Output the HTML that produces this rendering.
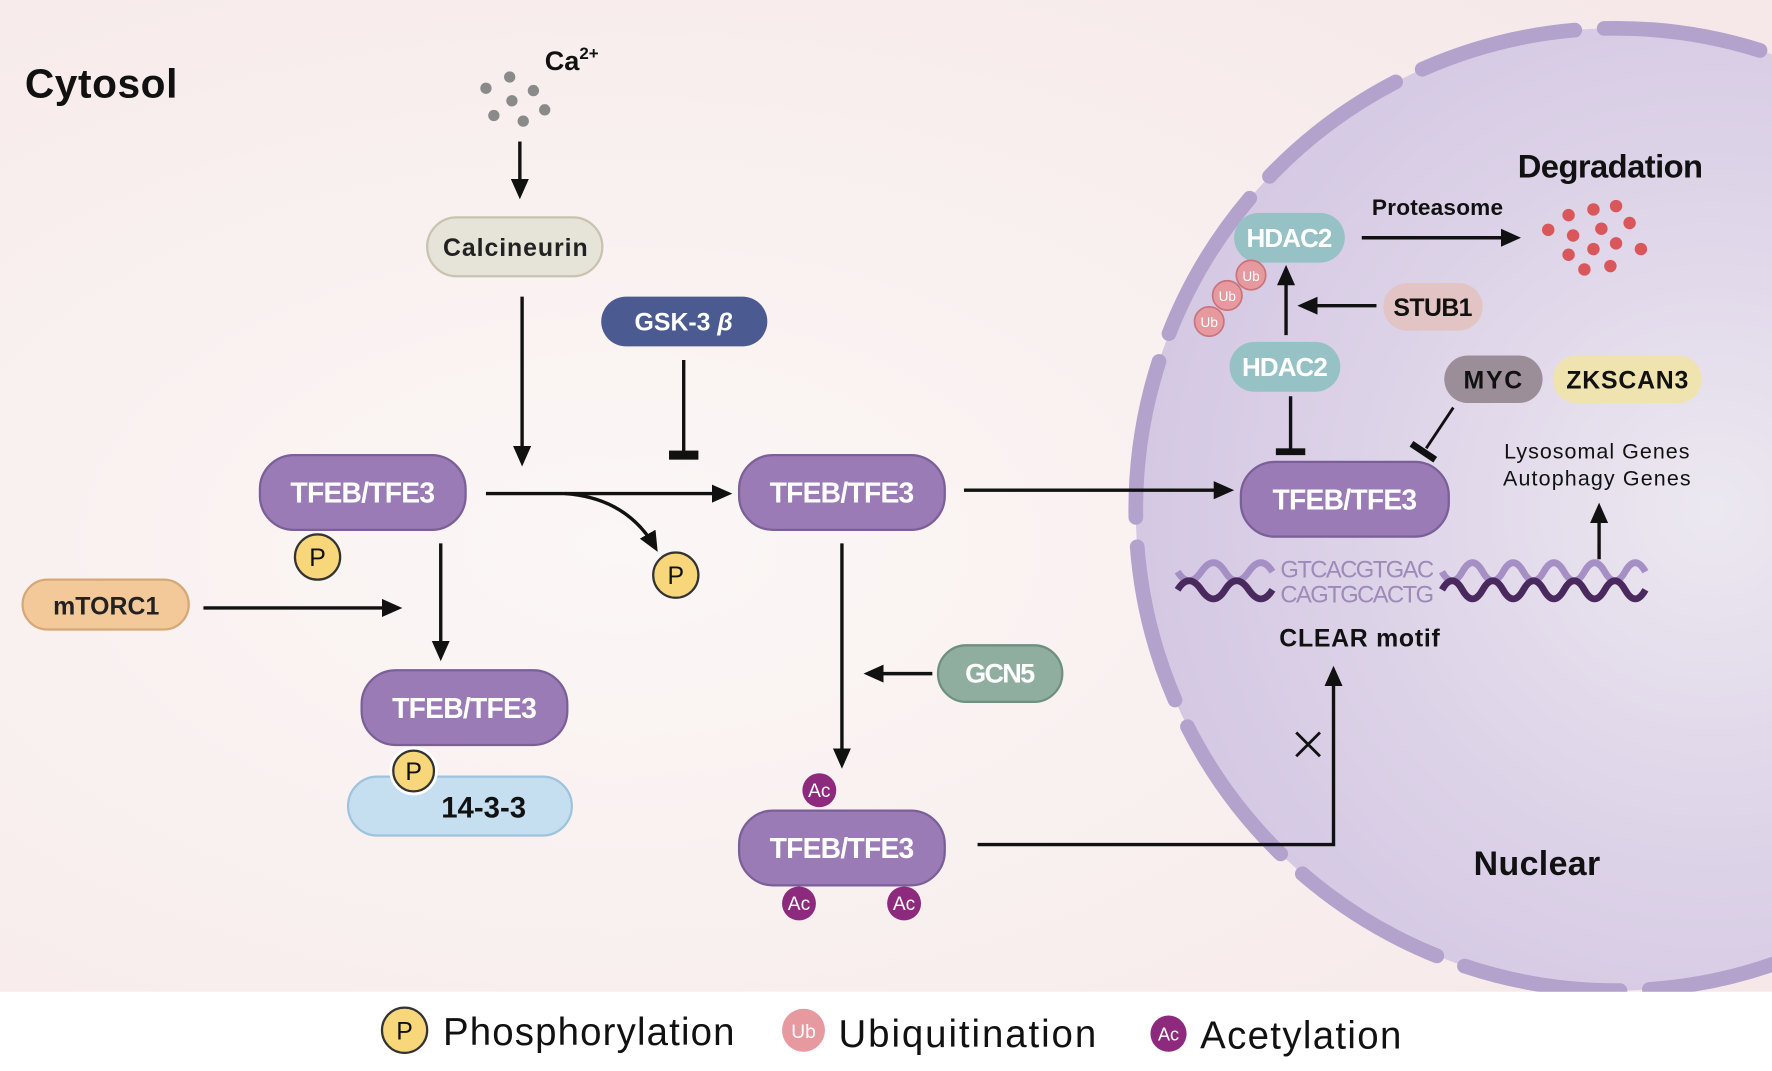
<!DOCTYPE html>
<html><head><meta charset="utf-8"><style>
html,body{margin:0;padding:0;background:#fff;}
svg{display:block;}
text{font-family:"Liberation Sans Narrow","Liberation Sans",sans-serif;}
</style></head><body>
<svg width="1772" height="1071" viewBox="0 0 1568 946" preserveAspectRatio="none" xmlns="http://www.w3.org/2000/svg">
<defs>
<radialGradient id="bg" cx="0.35" cy="0.55" r="0.8">
<stop offset="0" stop-color="#fbf7f6"/><stop offset="1" stop-color="#f6e8e8"/>
</radialGradient>
<radialGradient id="nuc" cx="0.6" cy="0.5" r="0.6">
<stop offset="0" stop-color="#ece8f0"/><stop offset="0.6" stop-color="#ddd3e8"/><stop offset="1" stop-color="#d4c8e3"/>
</radialGradient>
<marker id="ahb" markerWidth="18" markerHeight="16" refX="14" refY="8" orient="auto" markerUnits="userSpaceOnUse"><path d="M0,0 L18,8 L0,16 z" fill="#111"/></marker>
<clipPath id="main"><rect x="0" y="0" width="1568" height="876"/></clipPath>
</defs>
<rect x="0" y="0" width="1568" height="946" fill="#fff"/>
<rect x="0" y="0" width="1568" height="876" fill="url(#bg)"/>
<g clip-path="url(#main)">
<circle cx="1430" cy="450" r="425" fill="url(#nuc)"/>
<circle cx="1430" cy="450" r="425" fill="none" stroke="#b3a2cc" stroke-width="13" stroke-linecap="round" stroke-dasharray="140 26"/>
</g>
<text x="22" y="86" font-size="36" font-weight="bold" fill="#111" textLength="135">Cytosol</text>
<g fill="#8a8a8a">
<circle cx="430" cy="78" r="5"/><circle cx="451" cy="68" r="5"/><circle cx="472" cy="80" r="5"/>
<circle cx="453" cy="89" r="5"/><circle cx="482" cy="97" r="5"/><circle cx="437" cy="102" r="5"/><circle cx="463" cy="107" r="5"/>
</g>
<text x="482" y="62" font-size="24" font-weight="bold" fill="#111">Ca<tspan font-size="15" dy="-10">2+</tspan></text>
<g stroke="#111" stroke-width="3" fill="none">
<line x1="460" y1="125" x2="460" y2="172" marker-end="url(#ahb)"/>
<line x1="462" y1="262" x2="462" y2="408" marker-end="url(#ahb)"/>
<line x1="605" y1="318" x2="605" y2="402"/>
<line x1="430" y1="436" x2="644" y2="436" marker-end="url(#ahb)"/>
<path d="M500,436 Q555,440 580,484" marker-end="url(#ahb)"/>
<line x1="853" y1="433" x2="1088" y2="433" marker-end="url(#ahb)"/>
<line x1="180" y1="537" x2="352" y2="537" marker-end="url(#ahb)"/>
<line x1="390" y1="480" x2="390" y2="580" marker-end="url(#ahb)"/>
<line x1="745" y1="480" x2="745" y2="675" marker-end="url(#ahb)"/>
<line x1="825" y1="595" x2="768" y2="595" marker-end="url(#ahb)"/>
<polyline points="865,746 1180,746 1180,592" marker-end="url(#ahb)"/>
<line x1="1138" y1="296" x2="1138" y2="238" marker-end="url(#ahb)"/>
<line x1="1218" y1="270" x2="1152" y2="270" marker-end="url(#ahb)"/>
<line x1="1142" y1="350" x2="1142" y2="398"/>
<line x1="1205" y1="210" x2="1342" y2="210" marker-end="url(#ahb)"/>
<line x1="1415" y1="494" x2="1415" y2="448" marker-end="url(#ahb)"/>
<line x1="1286" y1="360" x2="1262" y2="396" stroke-width="2.5"/>
</g>
<rect x="592" y="398" width="26" height="8" fill="#111"/>
<rect x="1129" y="396" width="26" height="6" fill="#111"/>
<line x1="1249" y1="392" x2="1270" y2="406" stroke="#111" stroke-width="6"/>
<g stroke="#111" stroke-width="2.5"><line x1="1147" y1="647" x2="1168" y2="668"/><line x1="1168" y1="647" x2="1147" y2="668"/></g>
<rect x="378" y="192" width="155" height="52" rx="26" fill="#e6e3d8" stroke="#c8c3b0" stroke-width="2"/>
<text x="456" y="226" font-size="22" font-weight="bold" text-anchor="middle" fill="#222" textLength="128">Calcineurin</text>
<rect x="532" y="262" width="147" height="44" rx="22" fill="#4b5b92"/>
<text x="605" y="292" font-size="22" font-weight="bold" text-anchor="middle" fill="#fff">GSK-3 <tspan font-style="italic">β</tspan></text>
<g fill="#9a7bb5" stroke="#7b5f98" stroke-width="2">
<rect x="230" y="402" width="182" height="66" rx="30"/>
<rect x="654" y="402" width="182" height="66" rx="30"/>
<rect x="1098" y="408" width="184" height="66" rx="30"/>
<rect x="320" y="592" width="182" height="66" rx="30"/>
<rect x="654" y="716" width="182" height="66" rx="30"/>
</g>
<g font-size="25" font-weight="bold" fill="#fff" text-anchor="middle">
<text x="321" y="444" textLength="128">TFEB/TFE3</text>
<text x="745" y="444" textLength="128">TFEB/TFE3</text>
<text x="1190" y="450" textLength="128">TFEB/TFE3</text>
<text x="411" y="634" textLength="128">TFEB/TFE3</text>
<text x="745" y="758" textLength="128">TFEB/TFE3</text>
</g>
<rect x="20" y="512" width="147" height="44" rx="22" fill="#f3c99a" stroke="#d6a878" stroke-width="2"/>
<text x="94" y="543" font-size="22" font-weight="bold" text-anchor="middle" fill="#222" textLength="94">mTORC1</text>
<rect x="308" y="686" width="198" height="52" rx="26" fill="#c5dff0" stroke="#9ec3dc" stroke-width="2"/>
<text x="428" y="722" font-size="26" font-weight="bold" text-anchor="middle" fill="#111">14-3-3</text>
<rect x="830" y="570" width="110" height="50" rx="25" fill="#8fae9f" stroke="#6f8f80" stroke-width="2"/>
<text x="885" y="603" font-size="24" font-weight="bold" text-anchor="middle" fill="#fff" textLength="62">GCN5</text>
<g fill="#f7d77a" stroke="#333" stroke-width="2">
<circle cx="281" cy="492" r="20"/><circle cx="598" cy="508" r="20"/><circle cx="366" cy="681" r="20" stroke="#fff" stroke-width="3"/>
</g>
<circle cx="366" cy="681" r="18" fill="none" stroke="#333" stroke-width="2"/>
<g font-size="22" text-anchor="middle" fill="#111"><text x="281" y="500">P</text><text x="598" y="516">P</text><text x="366" y="689">P</text></g>
<g fill="#8e2a7d"><circle cx="725" cy="698" r="15"/><circle cx="707" cy="798" r="15"/><circle cx="800" cy="798" r="15"/></g>
<g font-size="17" text-anchor="middle" fill="#fff"><text x="725" y="704">Ac</text><text x="707" y="804">Ac</text><text x="800" y="804">Ac</text></g>
<text x="1425" y="157" font-size="29" font-weight="bold" text-anchor="middle" fill="#111" textLength="164">Degradation</text>
<text x="1272" y="190" font-size="20" font-weight="bold" text-anchor="middle" fill="#111" textLength="116">Proteasome</text>
<g fill="#d9575a">
<circle cx="1388" cy="190" r="5.5"/><circle cx="1410" cy="185" r="5.5"/><circle cx="1430" cy="182" r="5.5"/><circle cx="1442" cy="197" r="5.5"/>
<circle cx="1370" cy="203" r="5.5"/><circle cx="1392" cy="208" r="5.5"/><circle cx="1417" cy="202" r="5.5"/><circle cx="1430" cy="215" r="5.5"/>
<circle cx="1452" cy="220" r="5.5"/><circle cx="1410" cy="220" r="5.5"/><circle cx="1388" cy="225" r="5.5"/><circle cx="1402" cy="238" r="5.5"/><circle cx="1425" cy="235" r="5.5"/>
</g>
<g fill="#96c2c6">
<rect x="1092" y="188" width="98" height="44" rx="22"/>
<rect x="1088" y="302" width="98" height="44" rx="22"/>
</g>
<g font-size="23" font-weight="bold" fill="#fff" text-anchor="middle"><text x="1141" y="218" textLength="76">HDAC2</text><text x="1137" y="332" textLength="76">HDAC2</text></g>
<rect x="1224" y="250" width="88" height="42" rx="21" fill="#e3c4c4"/>
<text x="1268" y="279" font-size="22" font-weight="bold" text-anchor="middle" fill="#111" textLength="70">STUB1</text>
<g fill="#e69a9f" stroke="#c9737a" stroke-width="1.5">
<circle cx="1107" cy="243" r="13"/><circle cx="1086" cy="261" r="13"/><circle cx="1070" cy="284" r="13"/>
</g>
<g font-size="12" fill="#fff" text-anchor="middle"><text x="1107" y="248">Ub</text><text x="1086" y="266">Ub</text><text x="1070" y="289">Ub</text></g>
<rect x="1278" y="314" width="87" height="42" rx="21" fill="#9b8e98"/>
<text x="1321" y="343" font-size="22" font-weight="bold" text-anchor="middle" fill="#111" textLength="52">MYC</text>
<rect x="1374" y="314" width="132" height="42" rx="21" fill="#efe3b0"/>
<text x="1440" y="343" font-size="22" font-weight="bold" text-anchor="middle" fill="#111" textLength="108">ZKSCAN3</text>
<text x="1413" y="405" font-size="19" text-anchor="middle" fill="#111" textLength="164">Lysosomal Genes</text>
<text x="1413" y="429" font-size="19" text-anchor="middle" fill="#111" textLength="166">Autophagy Genes</text>
<g fill="none" stroke-width="6">
<path d="M1042,505 q10,16 21,0 t21,0 t21,0 t21,0" stroke="#a58fc4"/>
<path d="M1042,521 q10,-16 21,0 t21,0 t21,0 t21,0" stroke="#4a2a5e"/>
<path d="M1276,505 q9,16 18,0 t18,0 t18,0 t18,0 t18,0 t18,0 t18,0 t18,0 t18,0 t18,0" stroke="#a58fc4"/>
<path d="M1276,521 q9,-16 18,0 t18,0 t18,0 t18,0 t18,0 t18,0 t18,0 t18,0 t18,0 t18,0" stroke="#4a2a5e"/>
</g>
<text x="1201" y="510" font-size="21" text-anchor="middle" fill="#9d8ab8" textLength="136">GTCACGTGAC</text>
<text x="1201" y="532" font-size="21" text-anchor="middle" fill="#9d8ab8" textLength="136">CAGTGCACTG</text>
<text x="1203" y="571" font-size="22" font-weight="bold" text-anchor="middle" fill="#111" textLength="142">CLEAR motif</text>
<text x="1360" y="773" font-size="30" font-weight="bold" text-anchor="middle" fill="#111" textLength="112">Nuclear</text>
<circle cx="358" cy="910" r="20" fill="#f7d77a" stroke="#333" stroke-width="2"/>
<text x="358" y="918" font-size="22" text-anchor="middle" fill="#111">P</text>
<text x="392" y="923" font-size="34" fill="#111" textLength="258">Phosphorylation</text>
<circle cx="711" cy="910" r="19" fill="#e69a9f"/>
<text x="711" y="917" font-size="17" text-anchor="middle" fill="#fff">Ub</text>
<text x="742" y="925" font-size="34" fill="#111" textLength="228">Ubiquitination</text>
<circle cx="1034" cy="913" r="16" fill="#8e2a7d"/>
<text x="1034" y="919" font-size="16" text-anchor="middle" fill="#fff">Ac</text>
<text x="1062" y="926" font-size="34" fill="#111" textLength="178">Acetylation</text>
</svg>
</body></html>
